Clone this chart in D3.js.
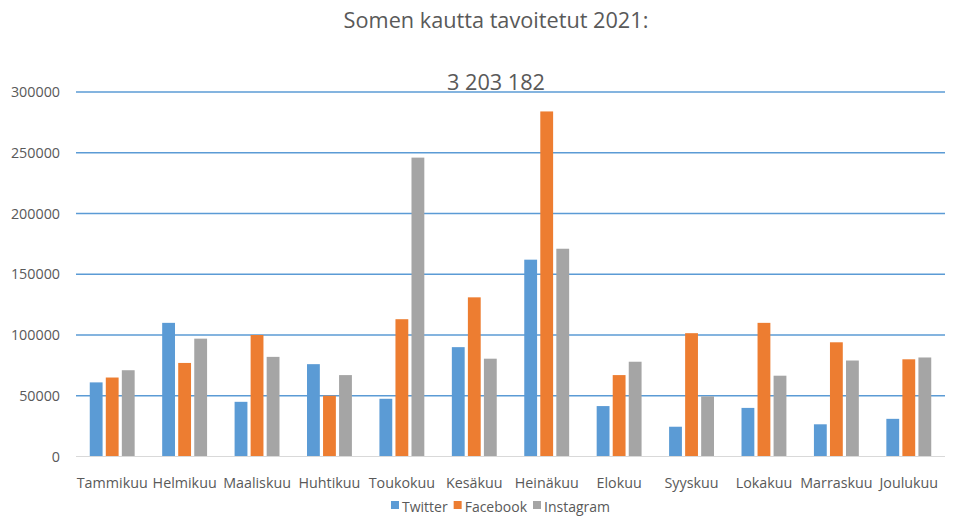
<!DOCTYPE html>
<html>
<head>
<meta charset="utf-8">
<script src="https://cdn.jsdelivr.net/npm/d3@7"></script>
<style>
  body { margin: 0; background: #fff; }
  text { font-family: "Open Sans", sans-serif; }
</style>
</head>
<body>
<div id="container"></div>
<script>
// data
const months = ["Tammikuu", "Helmikuu", "Maaliskuu", "Huhtikuu", "Toukokuu", "Kesäkuu",
  "Heinäkuu", "Elokuu", "Syyskuu", "Lokakuu", "Marraskuu", "Joulukuu"];
const seriesNames = ["Twitter", "Facebook", "Instagram"];
const twitter = [61000, 110000, 45000, 76000, 47500, 90000, 162000, 41500, 24500, 40000, 26500, 31000];
const facebook = [65000, 77000, 100000, 50000, 113000, 131000, 284000, 67000, 101500, 110000, 94000, 80000];
const instagram = [71000, 97000, 82000, 67000, 246000, 80500, 171000, 78000, 49500, 66500, 79000, 81500];
const yTicks = [0, 50000, 100000, 150000, 200000, 250000, 300000];
const title = "Somen kautta tavoitetut 2021:";
const subtitle = "3 203 182";

// constants
const WIDTH = 953;
const HEIGHT = 518;
const LEFT = 76, RIGHT = 945, TOP = 92, BOTTOM = 456.5;
const COLORS = { Twitter: "#5b9bd5", Facebook: "#ed7d31", Instagram: "#a5a5a5" };
const TEXT_COLOR = "#595959";

const values = { Twitter: twitter, Facebook: facebook, Instagram: instagram };

const svg = d3.select("#container")
    .append("svg")
    .attr("width", WIDTH)
    .attr("height", HEIGHT);

const x0 = d3.scaleBand()
    .domain(months)
    .range([LEFT, RIGHT])
    .paddingInner(0.38)
    .paddingOuter(0.19);

const x1 = d3.scaleBand()
    .domain(seriesNames)
    .range([0, x0.bandwidth()])
    .paddingInner(0.2);

const y = d3.scaleLinear()
    .domain([0, 300000])
    .range([BOTTOM, TOP]);

// gridlines
svg.append("g")
    .selectAll("line")
    .data(yTicks.filter(d => d > 0))
    .enter()
    .append("line")
    .attr("x1", LEFT)
    .attr("x2", RIGHT)
    .attr("y1", d => y(d))
    .attr("y2", d => y(d))
    .attr("stroke", "#5b9bd5")
    .attr("stroke-width", 1.6);

// left axis labels
const leftAxis = d3.axisLeft(y)
    .tickValues(yTicks)
    .tickSize(0)
    .tickPadding(16)
    .tickFormat(d => String(d));

svg.append("g")
    .attr("transform", "translate(" + LEFT + ",0)")
    .call(leftAxis)
    .call(g => g.select(".domain").remove())
    .selectAll("text")
    .attr("fill", TEXT_COLOR)
    .attr("font-size", 14.3)
    .style("font-family", "'Open Sans', sans-serif");

// bars
const groups = svg.append("g")
    .selectAll("g")
    .data(months)
    .enter()
    .append("g")
    .attr("transform", d => "translate(" + x0(d) + ",0)");

groups.selectAll("rect")
    .data((m, i) => seriesNames.map(s => ({ s: s, v: values[s][i] })))
    .enter()
    .append("rect")
    .attr("x", d => x1(d.s))
    .attr("y", d => y(d.v))
    .attr("width", x1.bandwidth())
    .attr("height", d => y(0) - y(d.v))
    .attr("fill", d => COLORS[d.s]);

// baseline
svg.append("line")
    .attr("x1", LEFT)
    .attr("x2", RIGHT)
    .attr("y1", y(0))
    .attr("y2", y(0))
    .attr("stroke", "#d9d9d9")
    .attr("stroke-width", 1.2);

// bottom axis labels
const bottomAxis = d3.axisBottom(x0)
    .tickSize(0)
    .tickPadding(21);

svg.append("g")
    .attr("transform", "translate(0," + y(0) + ")")
    .call(bottomAxis)
    .call(g => g.select(".domain").remove())
    .selectAll("text")
    .attr("fill", TEXT_COLOR)
    .attr("font-size", 14.3)
    .style("font-family", "'Open Sans', sans-serif");

// titles
svg.append("text")
    .attr("x", 496)
    .attr("y", 28)
    .attr("text-anchor", "middle")
    .attr("font-size", 21.7)
    .attr("fill", TEXT_COLOR)
    .text(title);

svg.append("text")
    .attr("x", 496)
    .attr("y", 90)
    .attr("text-anchor", "middle")
    .attr("font-size", 21.7)
    .attr("fill", TEXT_COLOR)
    .text(subtitle);

// legend: measure entries, then center them
const legend = svg.append("g")
    .attr("transform", "translate(0,501)");

const items = legend.selectAll("g")
    .data(seriesNames)
    .enter()
    .append("g");

items.append("rect")
    .attr("width", 8)
    .attr("height", 8)
    .attr("fill", d => COLORS[d]);

items.append("text")
    .attr("x", 11)
    .attr("y", 11)
    .attr("font-size", 14)
    .attr("fill", TEXT_COLOR)
    .text(d => d);

let offset = 0;
const offsets = [];
items.each(function () {
    offsets.push(offset);
    offset += 11 + d3.select(this).select("text").node().getComputedTextLength() + 6;
});
const startX = 500.5 - (offset - 6) / 2;
items.attr("transform", (d, i) => "translate(" + (startX + offsets[i]) + ",0)");
</script>
</body>
</html>
